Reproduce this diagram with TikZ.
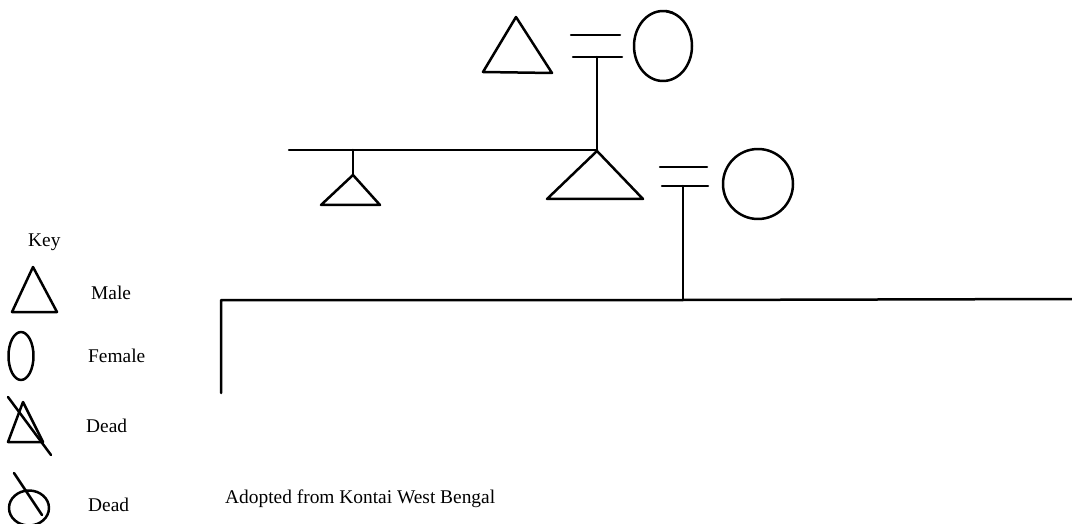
\documentclass[tikz,border=0pt]{standalone}
\usepackage{fontspec}
\setmainfont{Liberation Serif}
\begin{document}
\begin{tikzpicture}[x=1pt,y=-1pt,
  ln/.style={line width=2.5pt,line cap=round,line join=round},
  lbl/.style={anchor=base west,inner sep=0pt,font=\fontsize{19.4}{21}\selectfont}]
\useasboundingbox (0,0) rectangle (1072,524);
% top generation
\coordinate (gfa) at (516,17);
\draw[ln] (gfa) -- (483,72) -- (552,73) -- cycle;
\draw[ln] (571,35) -- (620,35);
\draw[ln] (573,57) -- (622,57);
\coordinate (m1) at (597,57);
\draw[ln] (663,46) ellipse [x radius=29,y radius=35];
\draw[ln] (666,11) -- (673,13);
% sibship
\coordinate (sibL) at (289,150);
\coordinate (f) at (597,151);
\coordinate (s1) at (353,150);
\coordinate (s1a) at (353,175);
\draw[ln] (m1) -- (f);
\draw[ln] (sibL) -- (597,150);
\draw[ln] (s1) -- (s1a);
\draw[ln] (s1a) -- (321,205) -- (380,205) -- cycle;
\draw[ln] (f) -- (547,199) -- (643,199) -- cycle;
% second couple
\draw[ln] (660,167) -- (707,167);
\draw[ln] (662,186) -- (708,186);
\coordinate (m2) at (683,186);
\coordinate (m2b) at (683,300);
\draw[ln] (758,184) circle [radius=35];
\draw[ln] (m2) -- (m2b);
\coordinate (cL) at (221,300);
\coordinate (cR) at (1072,299);
\coordinate (cLd) at (221,393);
\draw[ln] (cLd) -- (cL) -- (m2b) -- (cR);
% key
\node[lbl] (key) at (28,247) {Key};
\draw[ln] (33,267) -- (12,312) -- (57,312) -- cycle;
\node[lbl] (male) at (91,299) {Male};
\draw[ln] (21,356) ellipse [x radius=12.5,y radius=24];
\node[lbl] (female) at (88,362) {Female};
\draw[ln] (23,402) -- (8,442) -- (43,442) -- cycle;
\draw[ln] (8,397) -- (51,455);
\node[lbl] (dead1) at (86,432) {Dead};
\draw[ln] (29,508) ellipse [x radius=20,y radius=17.5];
\draw[ln] (14,473) -- (42,515);
\node[lbl] (dead2) at (88,511) {Dead};
\node[lbl] (src) at (225,503) {Adopted from Kontai West Bengal};
\end{tikzpicture}
\end{document}
